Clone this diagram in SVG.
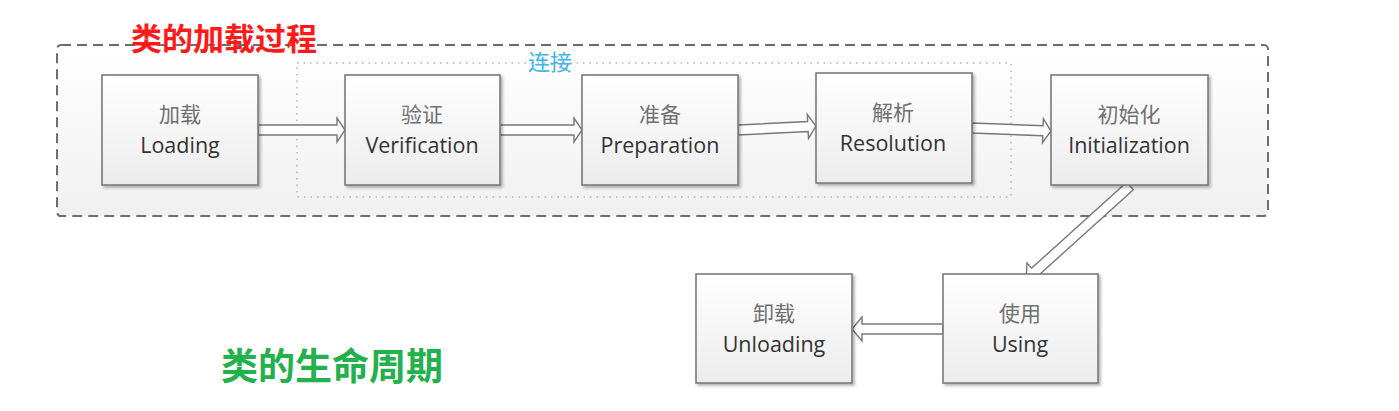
<svg xmlns="http://www.w3.org/2000/svg" width="1399" height="411" viewBox="0 0 1399 411">
<defs>
<linearGradient id="gBox" x1="0" y1="0" x2="0" y2="1">
<stop offset="0" stop-color="#ffffff"/>
<stop offset="1" stop-color="#ececec"/>
</linearGradient>
<linearGradient id="gGroup" x1="0" y1="0" x2="0" y2="1">
<stop offset="0" stop-color="#ffffff"/>
<stop offset="1" stop-color="#f0f0f0"/>
</linearGradient>
<filter id="sh" x="-10%" y="-10%" width="130%" height="130%">
<feGaussianBlur in="SourceAlpha" stdDeviation="1.5"/>
<feOffset dx="2" dy="2" result="b"/>
<feComponentTransfer><feFuncA type="linear" slope="0.3"/></feComponentTransfer>
<feMerge><feMergeNode/><feMergeNode in="SourceGraphic"/></feMerge>
</filter>
<style>
.box{fill:url(#gBox);stroke:#7a7a7a;stroke-width:1.6;filter:url(#sh)}
.zh{font-family:"Noto Sans CJK SC",sans-serif;font-size:21px;fill:#707070;text-anchor:middle}
.en{font-family:"Open Sans","Liberation Sans",sans-serif;font-size:21.5px;fill:#333333;text-anchor:middle}
.arr{fill:#ffffff;stroke:#777;stroke-width:1.4;stroke-linejoin:miter}
</style>
</defs>
<rect width="1399" height="411" fill="#ffffff"/>
<g id="loading-process">
<rect x="57" y="45" width="1211" height="171" rx="4" fill="url(#gGroup)" stroke="#6e6e6e" stroke-width="2" stroke-dasharray="10 6"/>
<text x="224" y="50" font-family="'Noto Sans CJK SC',sans-serif" font-size="31" font-weight="bold" fill="#ff1a1a" text-anchor="middle">类的加载过程</text>
</g>
<g id="linking">
<rect x="297" y="63" width="714" height="134" fill="none" stroke="#b5b5b5" stroke-width="1.5" stroke-dasharray="1.5 5"/>
<text x="550" y="70" font-family="'Noto Sans CJK SC',sans-serif" font-size="22" fill="#3db4ec" text-anchor="middle">连接</text>
</g>
<g id="connectors">
<path class="arr" d="M258 125 L337 125 L337 118 L345 130 L337 142 L337 135 L258 135 Z"/>
<path class="arr" d="M500 125 L574 125 L574 118 L582 130 L574 142 L574 135 L500 135 Z"/>
<path class="arr" transform="translate(738 130) rotate(-2.9)" d="M0 -5 L70 -5 L70 -12 L78 0 L70 12 L70 5 L0 5 Z"/>
<path class="arr" transform="translate(972 128) rotate(2.2)" d="M0 -5 L71 -5 L71 -12 L79 0 L71 12 L71 5 L0 5 Z"/>
<path class="arr" transform="translate(1130 186) rotate(137.9)" d="M0 -5 L128 -5 L128 -12 L140 0 L128 12 L128 5 L0 5 Z"/>
<path class="arr" transform="translate(943 329) rotate(180)" d="M0 -5 L81 -5 L81 -12 L91 0 L81 12 L81 5 L0 5 Z"/>
</g>
<g id="node-loading">
<rect class="box" x="102" y="75" width="156" height="110"/>
<text class="zh" x="180" y="122">加载</text>
<text class="en" x="180" y="153">Loading</text>
</g>
<g id="node-verification">
<rect class="box" x="345" y="75" width="155" height="110"/>
<text class="zh" x="422" y="122">验证</text>
<text class="en" x="422" y="153">Verification</text>
</g>
<g id="node-preparation">
<rect class="box" x="582" y="75" width="156" height="110"/>
<text class="zh" x="660" y="122">准备</text>
<text class="en" x="660" y="153">Preparation</text>
</g>
<g id="node-resolution">
<rect class="box" x="816" y="73" width="156" height="110"/>
<text class="zh" x="893" y="120">解析</text>
<text class="en" x="893" y="151">Resolution</text>
</g>
<g id="node-initialization">
<rect class="box" x="1051" y="75" width="157" height="110"/>
<text class="zh" x="1129" y="122">初始化</text>
<text class="en" x="1129" y="153">Initialization</text>
</g>
<g id="node-using">
<rect class="box" x="943" y="274" width="155" height="109"/>
<text class="zh" x="1020" y="321">使用</text>
<text class="en" x="1020" y="352">Using</text>
</g>
<g id="node-unloading">
<rect class="box" x="696" y="274" width="156" height="109"/>
<text class="zh" x="774" y="321">卸载</text>
<text class="en" x="774" y="352">Unloading</text>
</g>
<g id="lifecycle-label">
<text x="332" y="380" font-family="'Noto Sans CJK SC',sans-serif" font-size="37" font-weight="bold" fill="#22b14c" text-anchor="middle">类的生命周期</text>
</g>
</svg>
